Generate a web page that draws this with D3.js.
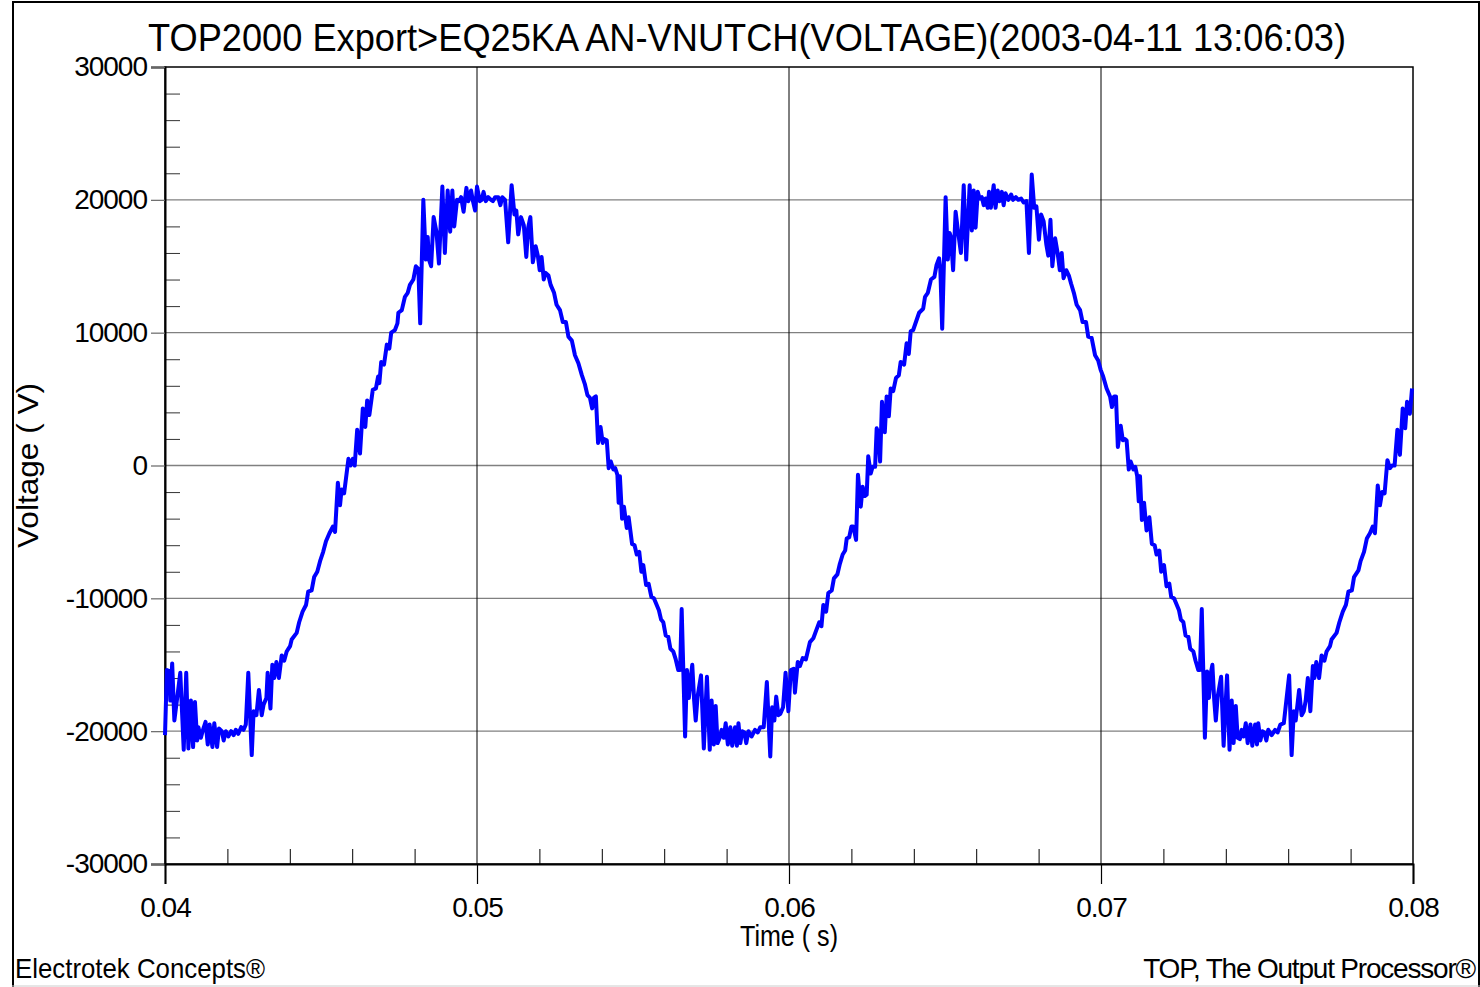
<!DOCTYPE html>
<html>
<head>
<meta charset="utf-8">
<script src="https://cdn.jsdelivr.net/npm/d3@7"></script>
<style>
  html, body { margin: 0; padding: 0; background: #fff; }
  svg { display: block; }
  text { font-family: "Liberation Sans", Arial, sans-serif; fill: #000; }
</style>
</head>
<body>
<svg id="chart" width="1480" height="987"></svg>
<script>
// Recorded waveform: sample time (s)
const timeS = [
  0.04000,0.04006,0.04015,0.04017,0.04023,0.04030,0.04038,0.04049,0.04060,0.04068,
  0.04075,0.04083,0.04090,0.04096,0.04103,0.04107,0.04115,0.04123,0.04130,0.04137,
  0.04143,0.04152,0.04158,0.04167,0.04173,0.04182,0.04188,0.04195,0.04203,0.04212,
  0.04220,0.04227,0.04235,0.04244,0.04252,0.04259,0.04267,0.04278,0.04284,0.04293,
  0.04301,0.04310,0.04316,0.04325,0.04329,0.04338,0.04344,0.04350,0.04357,0.04365,
  0.04374,0.04382,0.04390,0.04401,0.04406,0.04422,0.04430,0.04441,0.04452,0.04459,
  0.04470,0.04478,0.04488,0.04497,0.04507,0.04516,0.04527,0.04538,0.04545,0.04554,
  0.04561,0.04566,0.04574,0.04588,0.04595,0.04602,0.04608,0.04616,0.04625,0.04634,
  0.04642,0.04648,0.04655,0.04666,0.04676,0.04683,0.04687,0.04693,0.04702,0.04711,
  0.04719,0.04725,0.04737,0.04745,0.04748,0.04759,0.04769,0.04778,0.04785,0.04796,
  0.04804,0.04812,0.04818,0.04828,0.04836,0.04842,0.04846,0.04853,0.04861,0.04870,
  0.04878,0.04889,0.04897,0.04906,0.04914,0.04921,0.04927,0.04936,0.04942,0.04949,
  0.04957,0.04966,0.04972,0.04981,0.04987,0.04994,0.05000,0.05009,0.05015,0.05021,
  0.05028,0.05036,0.05045,0.05051,0.05058,0.05068,0.05075,0.05081,0.05090,0.05100,
  0.05111,0.05120,0.05126,0.05132,0.05141,0.05150,0.05158,0.05164,0.05171,0.05179,
  0.05188,0.05195,0.05201,0.05207,0.05214,0.05220,0.05229,0.05236,0.05247,0.05255,
  0.05266,0.05275,0.05285,0.05293,0.05304,0.05314,0.05325,0.05336,0.05346,0.05354,
  0.05362,0.05369,0.05375,0.05381,0.05388,0.05396,0.05403,0.05407,0.05416,0.05422,
  0.05429,0.05437,0.05443,0.05450,0.05454,0.05458,0.05465,0.05471,0.05480,0.05486,
  0.05497,0.05505,0.05512,0.05520,0.05527,0.05533,0.05542,0.05550,0.05559,0.05567,
  0.05583,0.05590,0.05597,0.05605,0.05613,0.05620,0.05629,0.05637,0.05645,0.05651,
  0.05656,0.05667,0.05673,0.05679,0.05686,0.05690,0.05696,0.05701,0.05707,0.05718,
  0.05727,0.05737,0.05746,0.05752,0.05759,0.05765,0.05771,0.05778,0.05784,0.05791,
  0.05797,0.05804,0.05812,0.05818,0.05827,0.05833,0.05838,0.05844,0.05850,0.05857,
  0.05863,0.05870,0.05880,0.05891,0.05900,0.05908,0.05919,0.05929,0.05940,0.05946,
  0.05953,0.05959,0.05966,0.05972,0.05981,0.05989,0.05998,0.06006,0.06015,0.06019,
  0.06028,0.06035,0.06044,0.06054,0.06067,0.06078,0.06089,0.06097,0.06104,0.06110,
  0.06119,0.06126,0.06137,0.06144,0.06155,0.06163,0.06172,0.06180,0.06185,0.06193,
  0.06200,0.06206,0.06215,0.06221,0.06230,0.06236,0.06243,0.06249,0.06254,0.06262,
  0.06268,0.06276,0.06281,0.06287,0.06292,0.06298,0.06307,0.06313,0.06320,0.06326,
  0.06334,0.06343,0.06352,0.06358,0.06369,0.06377,0.06384,0.06390,0.06398,0.06417,
  0.06430,0.06436,0.06445,0.06455,0.06466,0.06473,0.06481,0.06485,0.06491,0.06502,
  0.06509,0.06515,0.06519,0.06526,0.06534,0.06543,0.06551,0.06560,0.06568,0.06579,
  0.06586,0.06592,0.06598,0.06605,0.06611,0.06618,0.06624,0.06630,0.06637,0.06641,
  0.06647,0.06656,0.06662,0.06669,0.06675,0.06682,0.06688,0.06694,0.06703,0.06712,
  0.06718,0.06727,0.06735,0.06744,0.06752,0.06761,0.06769,0.06778,0.06786,0.06793,
  0.06801,0.06808,0.06816,0.06825,0.06831,0.06838,0.06844,0.06853,0.06861,0.06868,
  0.06874,0.06880,0.06889,0.06897,0.06904,0.06913,0.06922,0.06933,0.06941,0.06952,
  0.06959,0.06970,0.06981,0.06991,0.06999,0.07007,0.07018,0.07029,0.07035,0.07042,
  0.07048,0.07054,0.07063,0.07070,0.07076,0.07082,0.07089,0.07095,0.07104,0.07110,
  0.07116,0.07121,0.07125,0.07131,0.07138,0.07146,0.07155,0.07163,0.07172,0.07178,
  0.07187,0.07193,0.07202,0.07210,0.07219,0.07225,0.07234,0.07250,0.07256,0.07264,
  0.07271,0.07280,0.07286,0.07296,0.07303,0.07312,0.07317,0.07323,0.07333,0.07340,
  0.07346,0.07353,0.07357,0.07363,0.07368,0.07374,0.07385,0.07393,0.07404,0.07412,
  0.07419,0.07425,0.07432,0.07438,0.07445,0.07451,0.07457,0.07464,0.07470,0.07479,
  0.07485,0.07494,0.07500,0.07504,0.07511,0.07517,0.07523,0.07530,0.07536,0.07547,
  0.07558,0.07566,0.07575,0.07586,0.07603,0.07611,0.07618,0.07624,0.07635,0.07643,
  0.07650,0.07656,0.07663,0.07671,0.07679,0.07684,0.07690,0.07699,0.07707,0.07716,
  0.07723,0.07734,0.07739,0.07755,0.07764,0.07775,0.07785,0.07793,0.07804,0.07811,
  0.07825,0.07832,0.07843,0.07852,0.07862,0.07871,0.07878,0.07887,0.07894,0.07901,
  0.07909,0.07918,0.07926,0.07933,0.07941,0.07950,0.07958,0.07967,0.07975,0.07981,
  0.07990,0.07997
];

// Recorded waveform: voltage (V), one value per sample time
const voltageV = [
  -20300,-15400,-15500,-17700,-14900,-19200,-17700,-15600,-21400,-15600,
  -21300,-17700,-21200,-17800,-20700,-19700,-20500,-19800,-19300,-21000,
  -19500,-21200,-19400,-21200,-19800,-20000,-20700,-20000,-20400,-20000,
  -20300,-19900,-20200,-19700,-19900,-19500,-15600,-21800,-18500,-18800,
  -16900,-18800,-18000,-17500,-15600,-18300,-15000,-16000,-14800,-16000,
  -14300,-14700,-14000,-13600,-13100,-12600,-11800,-11000,-10500,-9500,
  -9400,-8400,-8000,-7200,-6500,-5700,-5100,-4600,-5000,-1300,
  -3000,-1800,-2100,500,0,500,0,2700,900,4300,
  2900,4900,3800,5700,5800,6700,6200,7800,7600,9100,
  8800,10000,10200,10700,11500,11700,12700,13000,13600,14000,
  15000,14800,10700,20000,15500,17200,15500,15000,18700,17600,
  15200,21000,16000,20700,17600,20700,18000,20000,19900,20200,
  19100,20900,19900,20700,19900,19200,21000,19900,20000,20600,
  19900,20200,20000,19900,20200,20200,19600,20200,20000,16800,
  21100,18900,19200,17400,18700,18100,15700,17900,18700,15300,
  16500,15800,14700,15700,14000,14500,14300,13600,13000,12100,
  11700,10800,10800,9700,9400,8300,7700,6800,6100,5300,
  5100,4300,5100,5200,1700,2900,1700,2000,1900,-200,
  300,-300,-200,-700,-2800,-800,-4000,-3100,-4700,-3900,
  -5900,-6000,-6700,-6500,-8000,-7500,-9000,-8900,-9900,-10000,
  -10900,-11600,-11800,-12800,-12900,-13800,-14000,-14600,-15400,-15400,
  -10800,-20400,-15400,-17500,-15800,-15000,-17700,-19200,-17400,-15800,
  -21300,-15900,-21400,-17700,-21000,-18100,-20900,-20500,-19900,-20500,
  -19400,-21000,-19700,-21100,-19700,-21100,-19400,-20900,-20000,-20100,
  -20900,-20000,-20400,-19900,-20100,-19700,-19700,-16300,-21900,-18200,
  -19200,-17400,-18800,-18700,-18200,-15600,-18500,-15400,-15300,-17100,
  -14800,-15100,-14500,-14600,-13300,-13000,-12300,-11800,-12100,-10500,
  -11000,-9600,-9400,-8500,-8200,-7400,-6700,-6400,-5500,-5400,
  -4600,-4600,-5600,-700,-3100,-1600,-2300,-2200,700,-600,
  -100,-100,2800,2400,300,4800,2500,5200,3700,5800,
  5600,6600,6800,7800,7600,9200,8400,10100,10200,11500,
  11800,12700,13000,14000,14200,15100,15600,14800,10300,20200,
  15500,17500,17200,14700,19100,17400,16000,21100,15500,21100,
  17700,20700,17900,20600,20100,20200,19600,20100,19400,20600,
  19400,21100,19400,20700,19900,20600,19600,20500,20000,20400,
  20000,20200,20000,20100,19800,19900,16000,21900,19400,19500,
  17000,18900,18400,16600,15800,18500,15000,17100,16000,14700,
  16000,14100,14700,14300,13700,13000,12100,11700,10800,10800,
  9700,9600,8300,7900,7200,6700,5800,5200,4400,5200,
  5200,1400,3000,1900,2000,1900,-300,300,-300,-100,
  -800,-2700,-800,-4100,-2800,-4900,-3900,-5900,-6000,-6700,
  -6400,-8000,-7500,-9100,-8900,-9900,-10000,-10900,-11600,-11800,
  -12800,-12900,-13800,-14000,-14700,-15400,-15400,-10800,-20500,-15500,
  -17500,-15500,-15000,-17700,-19200,-17400,-15900,-21100,-15800,-21400,
  -17700,-20900,-18100,-20500,-20600,-19900,-20400,-19400,-20900,-19500,
  -21100,-19500,-21000,-19400,-20700,-20000,-20100,-20700,-19900,-20300,
  -19900,-20100,-19500,-19400,-15800,-21800,-18500,-19200,-16900,-18800,
  -18500,-17700,-16000,-18500,-15100,-16000,-14800,-16000,-14300,-14700,
  -14000,-13600,-13100,-12600,-11800,-11000,-10500,-9500,-9400,-8400,
  -7900,-7200,-6500,-5500,-5100,-4600,-5100,-1500,-3000,-2000,
  -2100,400,-200,0,0,2700,800,4300,2800,4800,
  3900,5800
];

// Axis ticks
const yTicks = [-30000, -20000, -10000, 0, 10000, 20000, 30000];
const yTickLabels = ["-30000", "-20000", "-10000", "0", "10000", "20000", "30000"];
const yMinorTicks = [-28000, -26000, -24000, -22000, -18000, -16000, -14000, -12000,
  -8000, -6000, -4000, -2000, 2000, 4000, 6000, 8000,
  12000, 14000, 16000, 18000, 22000, 24000, 26000, 28000];
const yGridValues = [-20000, -10000, 0, 10000, 20000];
const xTicks = [0.04, 0.05, 0.06, 0.07, 0.08];
const xTickLabels = ["0.04", "0.05", "0.06", "0.07", "0.08"];
const xMinorTicks = [0.042, 0.044, 0.046, 0.048, 0.052, 0.054, 0.056, 0.058,
  0.062, 0.064, 0.066, 0.068, 0.072, 0.074, 0.076, 0.078];
const xGridValues = [0.05, 0.06, 0.07];

// Text
const titleText = "TOP2000 Export>EQ25KA AN-VNUTCH(VOLTAGE)(2003-04-11 13:06:03)";
const yAxisTitle = "Voltage ( V)";
const xAxisTitle = "Time ( s)";
const footerLeft = "Electrotek Concepts®";
const footerRight = "TOP, The Output Processor®";

const svg = d3.select("#chart");
const plot = { left: 165, right: 1413, top: 67, bottom: 864 };
const FONT = "'Liberation Sans', Arial, sans-serif";

const x = d3.scaleLinear().domain([0.04, 0.08]).range([plot.left, plot.right]);
const y = d3.scaleLinear().domain([-30000, 30000]).range([plot.bottom, plot.top]);

// Outer frame: dark sides and top, faint bottom edge
const frame = svg.append("g");
frame.append("line").attr("x1", 13).attr("x2", 13).attr("y1", 1).attr("y2", 987)
  .attr("stroke", "#000").attr("stroke-width", 2);
frame.append("line").attr("x1", 1479).attr("x2", 1479).attr("y1", 1).attr("y2", 987)
  .attr("stroke", "#000").attr("stroke-width", 2);
frame.append("line").attr("x1", 12).attr("x2", 1480).attr("y1", 2).attr("y2", 2)
  .attr("stroke", "#000").attr("stroke-width", 2);
frame.append("line").attr("x1", 12).attr("x2", 1480).attr("y1", 986).attr("y2", 986)
  .attr("stroke", "#ccc").attr("stroke-width", 1);

// Horizontal grid (gray)
svg.append("g").selectAll("line").data(yGridValues).join("line")
  .attr("x1", plot.left).attr("x2", plot.right)
  .attr("y1", d => y(d)).attr("y2", d => y(d))
  .attr("stroke", "#808080").attr("stroke-width", 1.3);

// Vertical grid (black)
svg.append("g").selectAll("line").data(xGridValues).join("line")
  .attr("x1", d => x(d)).attr("x2", d => x(d))
  .attr("y1", plot.top).attr("y2", plot.bottom)
  .attr("stroke", "#000").attr("stroke-width", 1);

// Minor ticks, drawn inward
const yMinorAxis = d3.axisLeft(y).tickValues(yMinorTicks).tickSize(-15).tickFormat("");
svg.append("g").attr("transform", `translate(${plot.left},0)`).call(yMinorAxis)
  .call(g => g.select(".domain").remove())
  .call(g => g.selectAll(".tick line").attr("stroke", "#333").attr("stroke-width", 1));

const xMinorAxis = d3.axisBottom(x).tickValues(xMinorTicks).tickSize(-15).tickFormat("");
svg.append("g").attr("transform", `translate(0,${plot.bottom})`).call(xMinorAxis)
  .call(g => g.select(".domain").remove())
  .call(g => g.selectAll(".tick line").attr("stroke", "#000").attr("stroke-width", 1));

// Plot frame
svg.append("rect")
  .attr("x", plot.left).attr("y", plot.top)
  .attr("width", plot.right - plot.left).attr("height", plot.bottom - plot.top)
  .attr("fill", "none").attr("stroke", "#000").attr("stroke-width", 1.5);

// Major axes
const yAxis = d3.axisLeft(y).tickValues(yTicks).tickSize(14).tickPadding(4)
  .tickFormat((d, i) => yTickLabels[i]);
svg.append("g").attr("transform", `translate(${plot.left},0)`).call(yAxis)
  .call(g => g.select(".domain").attr("stroke", "#000").attr("stroke-width", 2))
  .call(g => g.selectAll(".tick line").attr("stroke", "#666").attr("stroke-width", 1.2))
  .call(g => g.selectAll(".tick text")
    .attr("font-family", FONT)
    .attr("font-size", 28).attr("letter-spacing", "-1px").attr("fill", "#000"));

const xAxis = d3.axisBottom(x).tickValues(xTicks).tickSize(20).tickPadding(13)
  .tickFormat((d, i) => xTickLabels[i]);
svg.append("g").attr("transform", `translate(0,${plot.bottom})`).call(xAxis)
  .call(g => g.select(".domain").attr("stroke", "#000").attr("stroke-width", 2))
  .call(g => g.selectAll(".tick line").attr("stroke", "#000").attr("stroke-width", 1.2))
  .call(g => g.selectAll(".tick text")
    .attr("font-family", FONT)
    .attr("font-size", 28).attr("letter-spacing", "-1px").attr("fill", "#000"));

// Waveform
const points = timeS.map((t, i) => [t, voltageV[i]]);
const line = d3.line().x(d => x(d[0])).y(d => y(d[1]));
svg.append("path")
  .datum(points)
  .attr("d", line)
  .attr("fill", "none")
  .attr("stroke", "#0000ff")
  .attr("stroke-width", 4)
  .attr("stroke-linejoin", "round");

// Titles and footers
svg.append("text")
  .attr("x", 148).attr("y", 51)
  .attr("font-size", 38)
  .attr("textLength", 1198).attr("lengthAdjust", "spacingAndGlyphs")
  .text(titleText);

svg.append("text")
  .attr("transform", "translate(38,465.5) rotate(-90)")
  .attr("text-anchor", "middle")
  .attr("font-size", 29)
  .attr("textLength", 165).attr("lengthAdjust", "spacingAndGlyphs")
  .text(yAxisTitle);

svg.append("text")
  .attr("x", 740).attr("y", 946)
  .attr("font-size", 29)
  .attr("textLength", 98).attr("lengthAdjust", "spacingAndGlyphs")
  .text(xAxisTitle);

svg.append("text")
  .attr("x", 15).attr("y", 978)
  .attr("font-size", 28)
  .attr("textLength", 250).attr("lengthAdjust", "spacingAndGlyphs")
  .text(footerLeft);

svg.append("text")
  .attr("x", 1475).attr("y", 978)
  .attr("text-anchor", "end")
  .attr("font-size", 28)
  .attr("letter-spacing", "-1.2px")
  .text(footerRight);
</script>
</body>
</html>
